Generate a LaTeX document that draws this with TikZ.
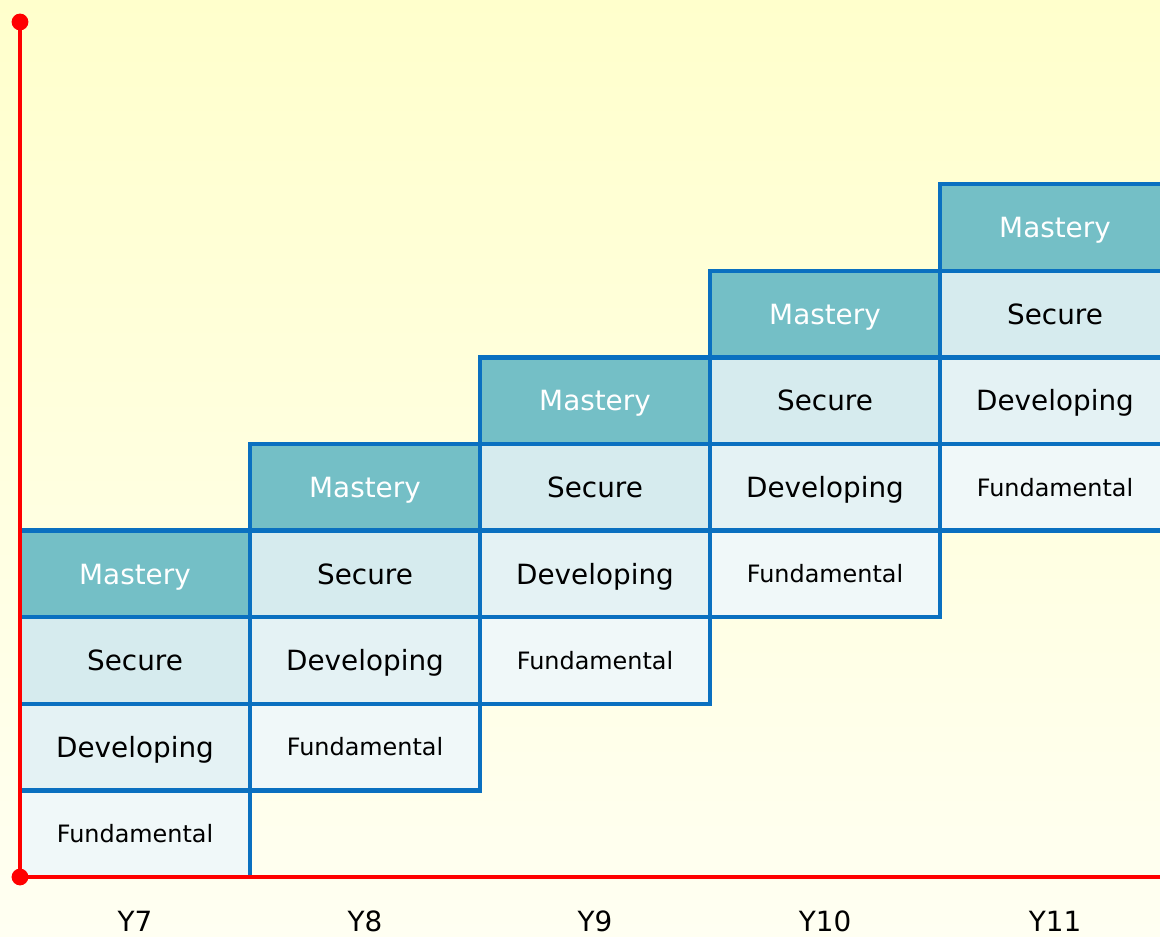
\documentclass[tikz,border=0pt]{standalone}
\usepackage{fontspec}
\setmainfont{DejaVu Sans}
\usepackage{tikz}
\usetikzlibrary{calc, positioning}
\usepackage{xcolor}

\definecolor{mascol}{HTML}{74BFC6}
\definecolor{seccol}{HTML}{D6EBEE}
\definecolor{devcol}{HTML}{E4F2F4}
\definecolor{funcol}{HTML}{F0F8F9}
\definecolor{edgecol}{HTML}{0A70C0}
\definecolor{bgtop}{HTML}{FFFFCC}
\definecolor{bgbot}{HTML}{FFFFF2}

\begin{document}
\begin{tikzpicture}[x=0.025cm, y=0.025cm]
				\tikzstyle{cell} = [draw=edgecol, line width=3.2pt, minimum width=5.75cm, minimum height=2.165cm, inner sep=0pt, outer sep=0pt, text height=14.4pt, text depth=0pt, font=\fontsize{19.8}{23}\selectfont]
				\tikzstyle{mas} = [cell, fill=mascol, text=white]
				\tikzstyle{sec} = [cell, fill=seccol]
				\tikzstyle{dev} = [cell, fill=devcol]
				\tikzstyle{fun} = [cell, fill=funcol, text height=12.4pt, font=\fontsize{17}{20}\selectfont]
				\tikzstyle{year} = [draw=none, anchor=base, font=\fontsize{19.8}{23}\selectfont]
				\tikzstyle{dot} = [circle, fill=red, inner sep=0pt, minimum size=0.42cm]
				
				% background
				\shade[top color=bgtop, bottom color=bgbot] (0,0) rectangle (1160,936);
				\useasboundingbox (0,0) rectangle (1160,936);
				\clip (0,0) rectangle (1160,936);
				
				% Y7
				\node[fun] at (135, 102.3) (f7) {Fundamental};
				\node[dev] at (135, 188.9) (d7) {Developing};
				\node[sec] at (135, 275.5) (s7) {Secure};
				\node[mas] at (135, 362.1) (m7) {Mastery};
				% Y8
				\node[fun] at (365, 188.9) (f8) {Fundamental};
				\node[dev] at (365, 275.5) (d8) {Developing};
				\node[sec] at (365, 362.1) (s8) {Secure};
				\node[mas] at (365, 448.7) (m8) {Mastery};
				% Y9
				\node[fun] at (595, 275.5) (f9) {Fundamental};
				\node[dev] at (595, 362.1) (d9) {Developing};
				\node[sec] at (595, 448.7) (s9) {Secure};
				\node[mas] at (595, 535.3) (m9) {Mastery};
				% Y10
				\node[fun] at (825, 362.1) (f10) {Fundamental};
				\node[dev] at (825, 448.7) (d10) {Developing};
				\node[sec] at (825, 535.3) (s10) {Secure};
				\node[mas] at (825, 621.9) (m10) {Mastery};
				% Y11
				\node[fun] at (1055, 448.7) (f11) {Fundamental};
				\node[dev] at (1055, 535.3) (d11) {Developing};
				\node[sec] at (1055, 621.9) (s11) {Secure};
				\node[mas] at (1055, 708.5) (m11) {Mastery};
				
				% axes
				\coordinate (top) at (20, 914);
				\coordinate (orig) at (20, 59);
				\coordinate (xend) at (1165, 59);
				\draw[red, line width=3pt] (top) -- (orig) -- (xend);
				\node[dot] at (top) (topdot) {};
				\node[dot] at (orig) (origdot) {};
				
				% year labels
				\node[year] at (135, 5) (y7) {Y7};
				\node[year] at (365, 5) (y8) {Y8};
				\node[year] at (595, 5) (y9) {Y9};
				\node[year] at (825, 5) (y10) {Y10};
				\node[year] at (1055, 5) (y11) {Y11};
			\end{tikzpicture}
\end{document}
